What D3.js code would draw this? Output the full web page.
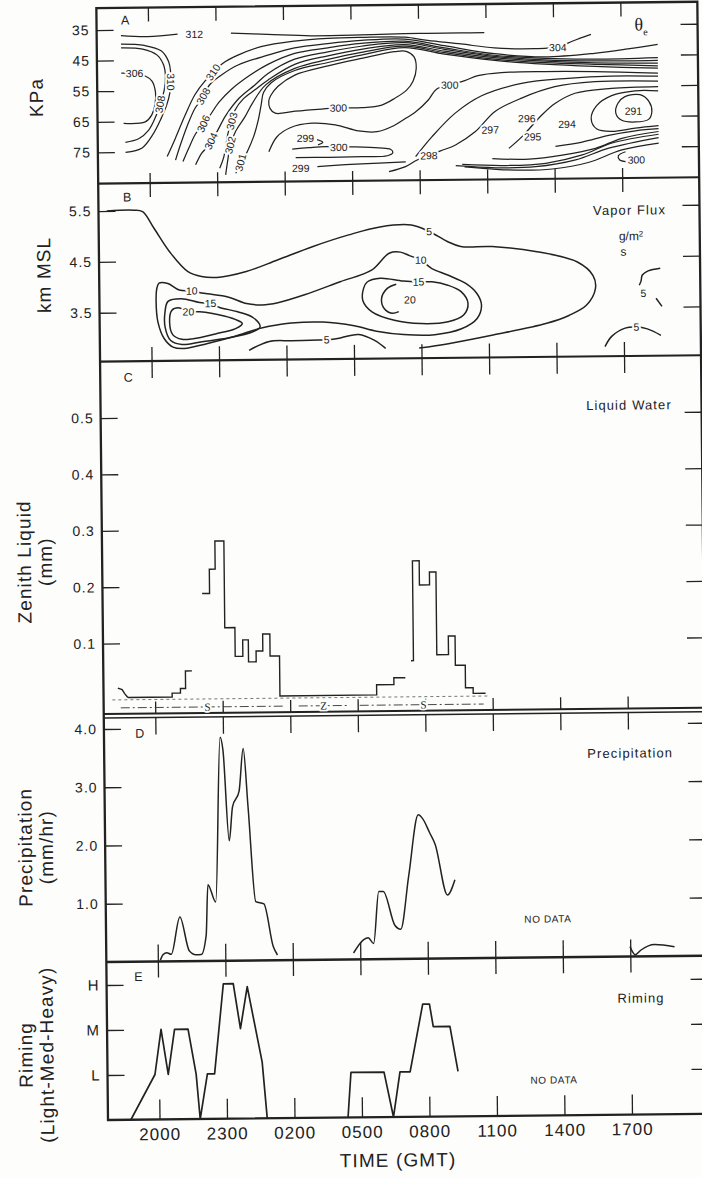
<!DOCTYPE html>
<html lang="en">
<head>
<meta charset="UTF-8">
<script src="https://d3js.org/d3.v7.min.js"></script>
<title>Storm time section</title>
<style>
  body { margin: 0; background: #fdfdfc; }
  svg { display: block; }
  text { font-family: "Liberation Sans", Arial, sans-serif; fill: #222; }
</style>
</head>
<body>
<div id="chart"></div>
<script>
// time is in hours after 2000 GMT
var timeTicks = [0, 3, 6, 9, 12, 15, 18, 21];
var timeLabels = ["2000", "2300", "0200", "0500", "0800", "1100", "1400", "1700"];

// A: theta-e isolines, [hour, kPa]
var kpaTicks = [35, 45, 55, 65, 75];
var thetaLines = [
  [[-1.21,36.9],[-0.02,37.3],[1.31,36.6]],
  [[-1.21,39.7],[-0.17,40.2],[0.57,42.0],[0.9,45.6],[0.98,48.9],[0.98,52.2],[0.94,55.7],[0.79,59.8],[0.54,64.1],[0.15,69.5],[-0.32,73.7],[-1.06,75.1]],
  [[-1.21,40.9],[-0.25,41.4],[0.39,43.4],[0.67,46.6],[0.75,50.4],[0.69,54.8],[0.5,59.5],[0.3,63.5],[-0.02,67.9],[-0.47,70.7],[-1.06,71.8]],
  [[-1.21,49.2],[-0.62,49.4],[-0.17,50.1],[0.15,51.9],[0.3,55.6],[0.27,59.7],[0.12,63.0],[-0.17,65.2],[-1.13,65.6]],
  [[3.68,36.5],[5.31,37.0],[7.24,37.6],[9.46,37.5],[11.39,37.2],[12.42,37.2],[13.9,37.2],[14.94,37.2]],
  [[0.79,76.6],[1.16,70.7],[1.61,63.1],[2.05,56.5],[2.5,52.1],[3.31,46.3],[3.98,43.7],[5.01,41.0],[6.5,39.3],[7.98,38.5],[9.46,38.3],[11.39,38.4],[12.42,39.5],[13.9,40.8],[15.38,42.2],[17.16,42.6],[18.2,42.1],[18.87,40.2],[19.68,38.1]],
  [[1.16,77.8],[1.38,72.9],[1.68,66.9],[2.05,60.9],[2.32,58.3],[2.72,53.2],[3.24,50.1],[3.98,46.9],[5.31,43.8],[6.5,41.5],[7.98,40.2],[9.46,39.3],[11.39,39.0],[13.16,41.3],[15.38,44.1],[17.61,45.3],[19.83,44.3],[21.31,43.0],[22.64,41.6]],
  [[1.49,78.3],[1.75,74.0],[2.02,69.8],[2.23,67.7],[2.67,63.7],[3.12,59.0],[3.68,54.8],[4.42,50.7],[5.31,46.8],[6.5,43.3],[7.98,41.6],[9.46,40.3],[11.39,39.7],[13.16,42.0],[15.38,44.6],[17.61,45.8],[19.83,46.2],[22.64,45.9]],
  [[2.05,79.4],[2.32,75.7],[2.54,73.9],[2.97,69.2],[3.41,63.4],[4.01,57.8],[4.72,53.5],[5.31,49.8],[6.5,45.2],[7.98,42.9],[9.46,41.2],[11.39,40.2],[13.16,42.5],[15.38,45.0],[17.61,46.3],[19.83,46.8],[22.64,46.8]],
  [[3.12,80.6],[3.31,76.8],[3.5,69.3],[3.83,61.6],[4.2,58.0],[4.72,55.1],[5.31,51.9],[6.5,46.9],[7.98,44.2],[9.46,42.2],[11.39,40.8],[13.16,43.1],[15.38,45.4],[17.61,46.7],[19.83,47.4],[22.64,47.7]],
  [[3.38,82.8],[3.47,78.5],[3.6,73.1],[3.85,68.5],[4.27,63.8],[4.6,59.5],[5.2,53.5],[6.5,48.2],[7.98,45.4],[9.46,43.2],[11.39,41.3],[13.16,43.6],[15.38,45.9],[17.61,47.2],[19.83,47.9],[22.64,48.6]],
  [[3.83,82.3],[4.35,75.3],[4.64,70.4],[4.87,64.5],[5.0,59.6],[5.1,56.0],[5.45,52.8],[6.5,48.9],[7.98,46.4],[9.46,44.1],[11.39,41.8],[13.16,44.1],[15.38,46.3],[17.61,47.7],[19.83,48.6],[22.64,49.4]],
  [[5.31,75.4],[5.68,70.5],[6.27,67.6],[7.24,66.2],[8.27,66.8],[9.31,68.9],[10.13,69.2],[10.87,67.3],[11.39,65.0],[11.83,63.0],[12.42,59.0],[12.79,55.5],[13.38,54.2],[14.05,52.8],[14.64,51.2],[15.68,50.3],[17.61,50.1],[19.83,50.3],[22.64,51.0]],
  [[6.35,74.6],[7.09,74.2],[7.83,73.9],[9.09,74.1],[10.2,74.5],[10.72,75.0],[10.82,76.1],[10.57,77.1],[9.46,77.3],[7.98,77.4],[6.5,77.4]],
  [[7.46,71.6],[7.71,72.5],[7.5,73.3]],
  [[7.46,80.4],[8.72,79.9],[10.2,79.5],[11.39,79.2]],
  [[11.83,77.5],[12.57,71.0],[13.61,63.4],[14.79,57.8],[16.57,53.9],[18.64,52.4],[20.57,51.8],[22.64,52.0]],
  [[10.64,82.3],[11.38,80.7],[11.9,78.6],[12.94,75.7],[13.61,73.8],[14.5,69.5],[15.38,63.0],[16.57,58.7],[18.05,55.1],[19.83,53.6],[22.64,53.6]],
  [[15.98,75.1],[16.57,71.3],[17.46,64.3],[18.05,60.6],[18.94,57.3],[20.57,55.8],[22.64,55.4]],
  [[22.64,56.8],[21.61,56.7],[20.57,58.2],[19.9,61.4],[19.65,65.6],[19.9,69.1],[20.57,69.9],[21.61,68.9],[22.64,68.2]],
  [[18.05,74.6],[19.24,73.3],[20.42,71.2],[21.61,69.8],[22.64,69.2]],
  [[15.24,78.4],[16.87,78.7],[18.35,77.5],[19.83,75.4],[21.01,72.2],[22.64,70.1]],
  [[13.9,80.2],[15.83,80.7],[17.61,80.1],[19.24,77.5],[20.57,73.7],[22.64,71.0]],
  [[13.61,80.6],[15.38,81.4],[17.16,81.2],[18.94,79.1],[20.42,75.4],[22.64,72.1]],
  [[14.0,81.0],[15.4,81.9],[16.6,82.3],[17.9,82.0],[19.5,80.0],[21.0,76.0],[22.64,73.9]],
  [[21.16,76.6],[20.84,77.9],[20.9,79.3],[21.16,79.8]]
];
var thetaLoops = [
  [[5.42,57.0],[5.75,54.0],[6.5,50.4],[7.98,47.5],[9.46,45.2],[10.94,43.1],[11.46,43.0],[11.8,44.8],[11.9,48.6],[11.75,52.8],[11.46,55.7],[10.94,58.3],[10.35,60.5],[9.46,61.3],[8.42,61.3],[7.68,61.6],[6.5,62.2],[5.61,62.8],[5.38,61.2],[5.33,58.8]],
  [[21.16,58.6],[21.83,58.0],[22.23,60.3],[22.35,63.6],[22.2,66.1],[21.61,66.9],[21.01,66.3],[20.75,64.0],[20.84,60.8]]
];
var thetaLabels = [
  [2.05,36.7,"312",0],[-0.62,49.3,"306",0],[0.98,52.2,"310",90],[0.5,59.5,"308",-80],
  [2.87,49.2,"310",-55],[2.42,57.0,"308",-60],[2.42,66.0,"306",-65],[2.75,71.7,"304",-65],
  [3.68,65.2,"303",-75],[3.6,73.1,"302",-75],[4.05,78.8,"301",-75],
  [8.42,61.3,"300",0],[13.38,54.2,"300",0],[8.42,74.2,"300",0],[6.94,71.1,"299",0],[6.72,80.9,"299",0],
  [18.2,42.3,"304",0],[12.42,77.2,"298",0],[15.16,69.0,"297",0],[16.79,65.4,"296",0],
  [17.04,71.4,"295",0],[18.57,67.4,"294",0],[21.53,63.3,"291",0],[21.64,79.3,"300",0]
];

// B: vapor flux isolines, [hour, km]
var kmTicks = [3.5, 4.5, 5.5];
var vaporLines = [
  [[-1.92,5.5],[-0.73,5.51],[-0.33,5.48],[0.17,5.15],[0.86,4.68],[1.66,4.29],[2.26,4.19],[2.95,4.17],[4.25,4.28],[5.64,4.5],[7.23,4.76],[8.82,4.98],[10.21,5.13],[11.61,5.16],[12.4,5.03],[13.2,4.83],[13.79,4.73],[15.19,4.72],[17.18,4.61],[18.97,4.4],[19.66,4.13],[19.76,3.87],[19.36,3.55],[18.57,3.35],[17.58,3.2],[15.19,2.98],[13.2,2.82],[11.9,2.74]],
  [[4.34,2.73],[5.24,2.9],[6.24,2.91],[7.43,2.92],[7.79,2.92],[8.22,2.94],[9.22,3.02],[9.92,2.9],[10.41,2.74]],
  [[10.91,4.0],[10.51,3.92],[10.25,3.72],[10.37,3.52],[10.71,3.43],[11.01,3.46]],
  [[22.65,4.26],[22.11,4.21],[21.85,4.13],[21.79,4.01],[21.71,3.93]],
  [[22.45,3.67],[22.71,3.51]],
  [[20.16,2.73],[20.46,2.93],[21.06,3.09],[21.56,3.11],[22.05,3.07],[22.65,2.94]]
];
var vaporLoops = [
  [[0.37,4.07],[0.76,4.06],[1.26,3.93],[1.82,3.91],[2.36,3.86],[3.46,3.78],[4.25,3.65],[4.94,3.62],[5.64,3.66],[6.83,3.81],[8.42,4.06],[9.82,4.28],[10.61,4.61],[11.11,4.63],[11.51,4.56],[12.01,4.47],[12.5,4.3],[13.2,4.17],[14.0,4.0],[14.49,3.8],[14.69,3.57],[14.49,3.31],[13.79,3.11],[12.6,3.0],[11.21,3.01],[10.01,3.08],[9.02,3.19],[7.63,3.27],[6.24,3.26],[5.24,3.2],[4.74,3.15],[3.65,3.0],[2.46,2.87],[1.46,2.78],[0.96,2.81],[0.57,2.98],[0.3,3.31],[0.23,3.7],[0.27,3.97]],
  [[0.76,3.71],[1.36,3.76],[2.16,3.68],[2.65,3.66],[3.05,3.58],[3.85,3.49],[4.54,3.37],[4.84,3.19],[4.54,3.1],[3.46,2.98],[2.26,2.91],[1.36,2.86],[0.86,2.94],[0.62,3.2],[0.62,3.5]],
  [[1.22,3.58],[1.66,3.5],[2.16,3.5],[3.25,3.41],[3.85,3.32],[4.05,3.26],[3.75,3.16],[2.85,3.06],[1.86,2.97],[1.36,2.96],[0.96,3.05],[0.82,3.3],[0.92,3.53]],
  [[9.62,4.05],[10.21,4.12],[11.21,4.06],[11.9,4.04],[12.5,4.04],[13.2,3.97],[13.79,3.84],[14.09,3.61],[13.89,3.38],[13.2,3.25],[12.0,3.22],[10.81,3.29],[9.82,3.46],[9.42,3.68],[9.46,3.93]]
];
var vaporLabels = [
  [12.4,5.03,"5"],[1.82,3.91,"10"],[12.01,4.47,"10"],[2.65,3.66,"15"],[1.66,3.5,"20"],
  [11.9,4.04,"15"],[11.51,3.69,"20"],[7.79,2.92,"5"],[21.89,3.77,"5"],[21.56,3.11,"5"]
];

// C: zenith liquid water (mm), stepped
var lwcTicks = [0.1, 0.2, 0.3, 0.4, 0.5];
var lwcHook = [[-1.65,0.021],[-1.46,0.018],[-1.35,0.011],[-1.21,0.004]];
var lwcSteps = [
  [[-1.21,0.004],[0.76,0.011],[1.13,0.019],[1.36,0.05],[1.65,0.05]],
  [[2.14,0.187],[2.47,0.23],[2.73,0.28],[3.13,0.126],[3.58,0.075],[3.92,0.104],[4.17,0.065],[4.51,0.084],[4.81,0.114],[5.13,0.075],[5.55,0.004],[9.85,0.022],[10.62,0.034],[11.13,0.034]],
  [[11.39,0.064],[11.5,0.241],[11.8,0.198],[12.25,0.221],[12.54,0.074],[13.06,0.107],[13.36,0.055],[13.8,0.015],[14.14,0.005],[14.69,0.005]]
];
var phaseSpans = [["S",-1.53,5.8,2.33],["Z",6.38,8.56,7.49],["S",9.09,14.6,11.93]];

// D: precipitation (mm/hr)
var precipTicks = [1, 2, 3, 4];
var precipSegments = [
  [[0.11,0.02],[0.24,0.12],[0.4,0.15],[0.6,0.12],[1.0,0.76],[1.4,0.18],[1.7,0.11],[1.93,0.11],[2.16,0.44],[2.26,1.31],[2.6,1.01],[2.87,3.84],[2.99,3.62],[3.23,2.06],[3.39,2.64],[3.69,2.91],[3.89,3.64],[4.08,2.64],[4.38,1.01],[4.74,0.97],[5.14,0.23],[5.32,0.09]],
  [[8.7,0.11],[9.16,0.34],[9.36,0.37],[9.6,0.27],[9.85,1.16],[10.05,1.16],[10.55,0.58],[10.81,0.51],[11.19,1.43],[11.64,2.47],[11.84,2.4],[12.14,2.16],[12.38,1.96],[12.9,1.09],[13.24,1.35]],
  [[20.99,0.17],[21.22,0.03],[21.48,0.11],[22.08,0.2],[22.97,0.16]]
];

// E: riming class (1 light, 2 medium, 3 heavy)
var rimeTicks = [1, 2, 3];
var rimeLabels = ["L", "M", "H"];
var rimeSegments = [
  [[-1.27,0],[-0.18,1],[0.11,2],[0.41,1],[0.71,2],[1.31,2],[1.65,1],[1.81,0],[2.15,1],[2.47,1],[2.9,3],[3.34,3],[3.64,2],[3.96,2.93],[4.59,1.25],[4.79,0]],
  [[8.38,0],[8.53,1],[10.0,1],[10.4,0],[10.71,1],[11.16,1],[11.75,2.5],[12.05,2.5],[12.21,2],[12.95,2],[13.29,1]]
];

var W = 702, H = 1178, x0 = 108, x1 = 709;
var ink = "#222", paper = "#fdfdfc";

var svg = d3.select("#chart").append("svg").attr("width", W).attr("height", H);
svg.append("rect").attr("width", W).attr("height", H).attr("fill", paper);
// the scanned page sits a little tilted
var g = svg.append("g").attr("transform", "rotate(-0.6 108 1120)");

var x = d3.scaleLinear().domain([-2.289, 24.422]).range([x0, x1]);

var panels = [
  {key: "A", top: 8, bottom: 183.5, y: d3.scaleLinear().domain([35, 75]).range([30, 152.3]),
   ticks: kpaTicks, fmt: d3.format("d"), tTop: 14, tBot: 10},
  {key: "B", top: 183.5, bottom: 361.5, y: d3.scaleLinear().domain([3.5, 5.5]).range([312.7, 211]),
   ticks: kmTicks, fmt: d3.format(".1f"), tTop: 14, tBot: 14},
  {key: "C", top: 361.5, bottom: 714, y: d3.scaleLinear().domain([0, 0.5]).range([700, 418]),
   ticks: lwcTicks, fmt: d3.format(".1f"), tTop: 17, tBot: 12},
  {key: "D", top: 718, bottom: 962, y: d3.scaleLinear().domain([0, 4]).range([962, 729]),
   ticks: precipTicks, fmt: d3.format(".1f"), tTop: 17, tBot: 17},
  {key: "E", top: 962, bottom: 1120, y: d3.scaleLinear().domain([0, 3]).range([1120, 985]),
   ticks: rimeTicks, fmt: function (d) { return rimeLabels[d - 1]; }, tTop: 16, tBot: 20}
];
var P = {};
panels.forEach(function (p) { P[p.key] = p; });

function styleAxis(sel, size) {
  sel.select(".domain").remove();
  sel.selectAll("line").attr("stroke", ink).attr("stroke-width", 1.3);
  sel.selectAll("text").attr("fill", ink).style("font-size", size + "px")
     .style("font-family", "'Liberation Sans', Arial, sans-serif")
     .style("letter-spacing", "1px");
}

panels.forEach(function (p) {
  g.append("defs").append("clipPath").attr("id", "clip" + p.key)
    .append("rect").attr("x", x0).attr("y", p.top).attr("width", x1 - x0).attr("height", p.bottom - p.top);

  g.append("g").attr("transform", "translate(" + x0 + ",0)")
    .call(d3.axisLeft(p.y).tickValues(p.ticks).tickSize(-17).tickPadding(7).tickFormat(p.fmt))
    .call(styleAxis, p.key === "E" ? 15 : 14);
  g.append("g").attr("transform", "translate(" + x1 + ",0)")
    .call(d3.axisRight(p.y).tickValues(p.ticks).tickSize(-17).tickFormat(""))
    .call(styleAxis, 14);
  g.append("g").attr("transform", "translate(0," + p.top + ")")
    .call(d3.axisTop(x).tickValues(timeTicks).tickSize(-p.tTop).tickFormat(""))
    .call(styleAxis, 14);
  var bot = d3.axisBottom(x).tickValues(timeTicks).tickSize(-p.tBot).tickPadding(8.5)
    .tickFormat(p.key === "E" ? function (d, i) { return timeLabels[i]; } : "");
  g.append("g").attr("transform", "translate(0," + p.bottom + ")").call(bot).call(styleAxis, 17);
});

// frame and panel dividers
g.append("rect").attr("x", x0).attr("y", 8).attr("width", x1 - x0).attr("height", 1112)
  .attr("fill", "none").attr("stroke", ink).attr("stroke-width", 2.3);
[[183.5, 2.2], [361.5, 2.2], [714, 2], [718, 1.5], [962, 2.6]].forEach(function (d) {
  g.append("line").attr("x1", x0).attr("x2", x1).attr("y1", d[0]).attr("y2", d[0])
    .attr("stroke", ink).attr("stroke-width", d[1]);
});

function halo(sel) {
  return sel.attr("stroke", paper).attr("stroke-width", 4).attr("paint-order", "stroke")
    .attr("stroke-linejoin", "round");
}

// A: theta-e
var gA = g.append("g").attr("clip-path", "url(#clipA)");
var yA = P.A.y;
var lineA = d3.line().x(function (d) { return x(d[0]); }).y(function (d) { return yA(d[1]); })
  .curve(d3.curveCatmullRom.alpha(0.5));
var loopA = d3.line().x(function (d) { return x(d[0]); }).y(function (d) { return yA(d[1]); })
  .curve(d3.curveCatmullRomClosed.alpha(0.5));
gA.selectAll("path.th").data(thetaLines).enter().append("path").attr("class", "th")
  .attr("d", lineA).attr("fill", "none").attr("stroke", ink).attr("stroke-width", 1.25);
gA.selectAll("path.tl").data(thetaLoops).enter().append("path").attr("class", "tl")
  .attr("d", loopA).attr("fill", "none").attr("stroke", ink).attr("stroke-width", 1.25);
gA.selectAll("text.tlab").data(thetaLabels).enter().append("text").attr("class", "tlab")
  .attr("transform", function (d) { return "translate(" + x(d[0]) + "," + yA(d[1]) + ") rotate(" + d[3] + ")"; })
  .attr("text-anchor", "middle").attr("dy", "0.35em").style("font-size", "10.5px")
  .text(function (d) { return d[2]; }).call(halo);

// B: vapor flux
var gB = g.append("g").attr("clip-path", "url(#clipB)");
var yB = P.B.y;
var lineB = d3.line().x(function (d) { return x(d[0]); }).y(function (d) { return yB(d[1]); })
  .curve(d3.curveCatmullRom.alpha(0.5));
var loopB = d3.line().x(function (d) { return x(d[0]); }).y(function (d) { return yB(d[1]); })
  .curve(d3.curveCatmullRomClosed.alpha(0.5));
gB.selectAll("path.vl").data(vaporLines).enter().append("path").attr("class", "vl")
  .attr("d", lineB).attr("fill", "none").attr("stroke", ink).attr("stroke-width", 1.5);
gB.selectAll("path.vo").data(vaporLoops).enter().append("path").attr("class", "vo")
  .attr("d", loopB).attr("fill", "none").attr("stroke", ink).attr("stroke-width", 1.5);
gB.selectAll("text.vlab").data(vaporLabels).enter().append("text").attr("class", "vlab")
  .attr("x", function (d) { return x(d[0]); }).attr("y", function (d) { return yB(d[1]); })
  .attr("text-anchor", "middle").attr("dy", "0.35em").style("font-size", "10.5px")
  .text(function (d) { return d[2]; }).call(halo);

// C: liquid water
var gC = g.append("g").attr("clip-path", "url(#clipC)");
var yC = P.C.y;
gC.append("line").attr("x1", x(-1.9)).attr("x2", x(14.8)).attr("y1", yC(0)).attr("y2", yC(0))
  .attr("stroke", "#555").attr("stroke-width", 0.8).attr("stroke-dasharray", "3,3");
var stepC = d3.line().x(function (d) { return x(d[0]); }).y(function (d) { return yC(d[1]); })
  .curve(d3.curveStepAfter);
gC.append("path").attr("d", d3.line().x(function (d) { return x(d[0]); }).y(function (d) { return yC(d[1]); })(lwcHook))
  .attr("fill", "none").attr("stroke", ink).attr("stroke-width", 1.4);
gC.selectAll("path.st").data(lwcSteps).enter().append("path").attr("class", "st")
  .attr("d", stepC).attr("fill", "none").attr("stroke", ink).attr("stroke-width", 1.4);
var spanY = yC(0) + 8;
phaseSpans.forEach(function (s) {
  gC.append("line").attr("x1", x(s[1])).attr("x2", x(s[2])).attr("y1", spanY).attr("y2", spanY)
    .attr("stroke", "#333").attr("stroke-width", 0.9).attr("stroke-dasharray", "9,3,2,3");
  gC.append("text").attr("x", x(s[3])).attr("y", spanY).attr("dy", "0.35em").attr("text-anchor", "middle")
    .style("font-family", "'Liberation Serif', serif").style("font-size", "11px").text(s[0]).call(halo);
});

// D: precipitation
var gD = g.append("g").attr("clip-path", "url(#clipD)");
var yD = P.D.y;
var lineD = d3.line().x(function (d) { return x(d[0]); }).y(function (d) { return yD(d[1]); })
  .curve(d3.curveMonotoneX);
gD.selectAll("path.pr").data(precipSegments).enter().append("path").attr("class", "pr")
  .attr("d", lineD).attr("fill", "none").attr("stroke", ink).attr("stroke-width", 1.5);

// E: riming
var gE = g.append("g").attr("clip-path", "url(#clipE)");
var yE = P.E.y;
var lineE = d3.line().x(function (d) { return x(d[0]); }).y(function (d) { return yE(d[1]); });
gE.selectAll("path.rm").data(rimeSegments).enter().append("path").attr("class", "rm")
  .attr("d", lineE).attr("fill", "none").attr("stroke", ink).attr("stroke-width", 1.7)
  .attr("stroke-linejoin", "round");

// panel letters and captions
[["A", 136.6, 20.3], ["B", 136.7, 197.3], ["C", 136.1, 377.6], ["D", 143.8, 733.6], ["E", 139.8, 977]]
  .forEach(function (d) {
    g.append("text").attr("x", d[1]).attr("y", d[2]).attr("dy", "0.35em").attr("text-anchor", "middle")
      .style("font-size", "12.5px").text(d[0]);
  });
var captions = [["Vapor Flux", 639, 215.6, 13], ["Liquid Water", 636.4, 410.5, 13],
  ["Precipitation", 634, 758.6, 13], ["Riming", 642.3, 1003.6, 13],
  ["NO DATA", 550, 923.6, 10], ["NO DATA", 554.4, 1084.7, 10]];
captions.forEach(function (c) {
  g.append("text").attr("x", c[1]).attr("y", c[2]).attr("dy", "0.35em").attr("text-anchor", "middle")
    .style("font-size", c[3] + "px").style("letter-spacing", c[3] > 11 ? "1.1px" : "0.6px").text(c[0]);
});
var unit = g.append("text").attr("x", 640.3).attr("y", 241.5).attr("dy", "0.35em").attr("text-anchor", "middle")
  .style("font-size", "12px");
unit.append("tspan").text("g/m");
unit.append("tspan").attr("dy", "-0.45em").style("font-size", "8px").text("2");
g.append("text").attr("x", 632.6).attr("y", 257).attr("dy", "0.35em").attr("text-anchor", "middle")
  .style("font-size", "12px").text("s");
var theta = g.append("text").attr("x", 646).attr("y", 36).style("font-family", "'Liberation Serif', serif")
  .style("font-size", "18px");
theta.append("tspan").text("θ");
theta.append("tspan").attr("dy", "5").style("font-size", "10px").text("e");

// axis titles
var titles = [
  [["KPa"], 46.7, 96.7],
  [["km MSL"], 52.5, 274.3],
  [["Zenith Liquid", "(mm)"], 29.9, 561.1],
  [["Precipitation", "(mm/hr)"], 27.9, 846.6],
  [["Riming", "(Light-Med-Heavy)"], 26.2, 1054.1]
];
titles.forEach(function (t) {
  t[0].forEach(function (s, i) {
    g.append("text").attr("transform", "translate(" + (t[1] + i * 21) + "," + t[2] + ") rotate(-90)")
      .attr("text-anchor", "middle").attr("dy", "0.36em")
      .style("font-size", "19px").style("letter-spacing", "1.1px").text(s);
  });
});
g.append("text").attr("x", 397.6).attr("y", 1169.7).attr("text-anchor", "middle")
  .style("font-size", "19px").style("letter-spacing", "1.1px").text("TIME (GMT)");
</script>
</body>
</html>
